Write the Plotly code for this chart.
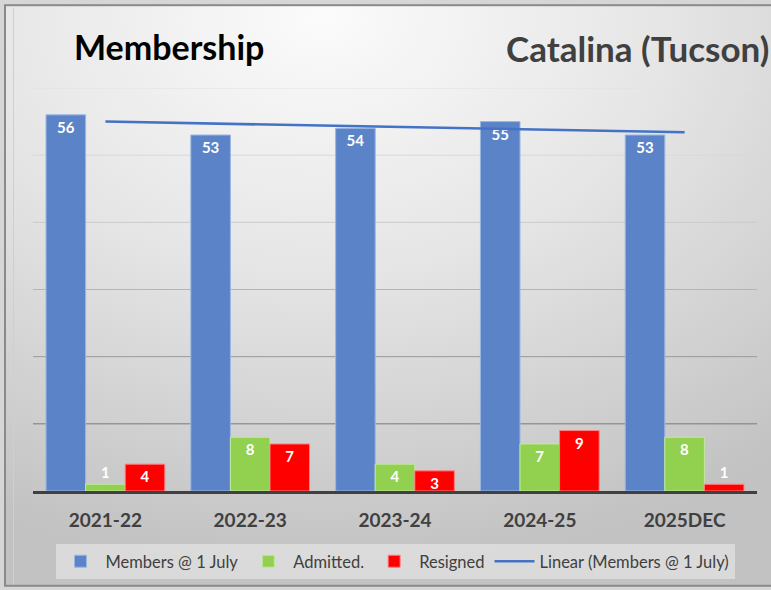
import base64
import numpy as np
import plotly.graph_objects as go

categories = ["2021-22", "2022-23", "2023-24", "2024-25", "2025DEC"]
members = [56, 53, 54, 55, 53]
admitted = [1, 8, 4, 7, 8]
resigned = [4, 7, 3, 9, 1]
grid_values = [10, 20, 30, 40, 50, 60]
grid_colors = ["#7a7a7a", "#9a9a9a", "#b4b4b4", "#cacaca", "#d8d8d8", "#e2e2e2"]

# Linear trendline of members (as in the Excel chart)
idx = np.arange(len(members))
slope, intercept = np.polyfit(idx, members, 1)
trend = (intercept + slope * idx).tolist()

FONT = "Lato"
W, H = 771, 590
ML, MR, MT, MB = 33, 14, 88, 98
PW, PH = W - ML - MR, H - MT - MB


def px_to_paper_x(px):
    return (px - ML) / PW


def px_to_paper_y(py):
    return (H - MB - py) / PH


svg = f"""<svg xmlns='http://www.w3.org/2000/svg' width='{W}' height='{H}' viewBox='0 0 {W} {H}'>
<defs>
<radialGradient id='g' cx='0.40' cy='0.02' r='0.95' fx='0.40' fy='0.02'>
<stop offset='0' stop-color='#fbfbfb'/>
<stop offset='0.45' stop-color='#e6e6e6'/>
<stop offset='1' stop-color='#c2c2c2'/>
</radialGradient>
</defs>
<rect x='0' y='0' width='{W}' height='{H}' fill='#d6d6d6'/>
<rect x='5' y='5' width='{W + 20}' height='{H - 8}' fill='url(#g)' stroke='#8a8a8a' stroke-width='2'/>
<line x1='13.5' y1='8' x2='13.5' y2='{H - 4}' stroke='#cfcfcf' stroke-width='1'/>
</svg>"""
bg_src = "data:image/svg+xml;base64," + base64.b64encode(svg.encode()).decode()

label_font = dict(family=FONT, size=15, color="white", weight="bold")


def bar(y, name, color, edge):
    return go.Bar(
        x=categories, y=y, name=name,
        marker=dict(color=color, line=dict(color=edge, width=1)),
        text=y, textposition="auto", insidetextanchor="end", textangle=0,
        constraintext="none",
        textfont=label_font, insidetextfont=label_font, outsidetextfont=label_font,
        cliponaxis=False,
    )


fig = go.Figure()
fig.add_trace(bar(members, "Members @ 1 July", "#5B84C8", "#9AB6E2"))
fig.add_trace(bar(admitted, "Admitted.", "#92D050", "#C2E8A0"))
fig.add_trace(bar(resigned, "Resigned", "#FF0000", "#FF8080"))
fig.add_trace(go.Scatter(
    x=categories, y=trend, name="Linear (Members @ 1 July)",
    mode="lines", line=dict(color="#4472C4", width=2.5),
))

shapes = []
for v, c in zip(grid_values, grid_colors):
    shapes.append(dict(type="line", xref="paper", yref="y", x0=0, x1=1, y0=v, y1=v,
                       line=dict(color=c, width=1), layer="below"))

fig.update_layout(
    width=W, height=H,
    margin=dict(l=ML, r=MR, t=MT, b=MB),
    paper_bgcolor="#d6d6d6",
    plot_bgcolor="rgba(0,0,0,0)",
    barmode="group", bargap=0.18, bargroupgap=0.0,
    font=dict(family=FONT, color="#404040"),
    images=[dict(source=bg_src, xref="paper", yref="paper",
                 x=px_to_paper_x(0), y=px_to_paper_y(0),
                 sizex=W / PW, sizey=H / PH, sizing="stretch",
                 xanchor="left", yanchor="top", layer="below")],
    shapes=shapes,
    xaxis=dict(showline=True, linecolor="#404040", linewidth=3, ticks="",
               tickfont=dict(family=FONT, size=19, color="#404040", weight="bold"),
               ticklabelstandoff=10, showgrid=False, zeroline=False),
    yaxis=dict(range=[0, 60], showticklabels=False, showgrid=False, zeroline=False,
               ticks=""),
    showlegend=True,
    legend=dict(orientation="h", x=0.5, xanchor="center",
                y=px_to_paper_y(544), yanchor="top",
                bgcolor="rgba(238,238,238,0.55)",
                font=dict(family=FONT, size=16.5, color="#404040"),
                itemwidth=40, tracegroupgap=0),
    annotations=[
        dict(text="<b>Membership</b>", xref="paper", yref="paper",
             x=px_to_paper_x(72), y=px_to_paper_y(46), xanchor="left", yanchor="middle",
             showarrow=False, font=dict(family=FONT, size=34, color="#000000")),
        dict(text="<b>Catalina (Tucson)</b>", xref="paper", yref="paper",
             x=px_to_paper_x(771), y=px_to_paper_y(48), xanchor="right", yanchor="middle",
             showarrow=False, font=dict(family=FONT, size=35, color="#404040")),
    ],
)

fig.write_html("out.html", config={"displayModeBar": False},
               post_script="document.body.style.margin='0';")
